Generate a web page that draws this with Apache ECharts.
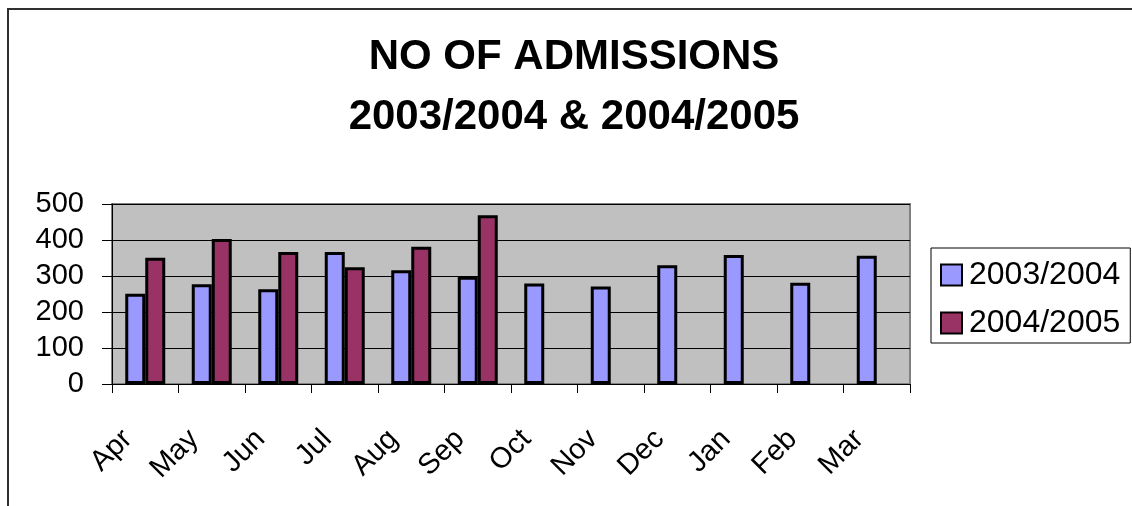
<!DOCTYPE html>
<html>
<head>
<meta charset="utf-8">
<script src="https://cdn.jsdelivr.net/npm/echarts@6/dist/echarts.min.js"></script>
<style>
html,body{margin:0;padding:0;background:#fff;}
#chart{width:1132px;height:506px;}
</style>
</head>
<body>
<div id="chart"></div>
<script>
const months = ['Apr','May','Jun','Jul','Aug','Sep','Oct','Nov','Dec','Jan','Feb','Mar'];
const series2003 = [251, 277, 263, 367, 316, 298, 279, 271, 330, 358, 281, 356];
const series2004 = [351, 403, 367, 324, 381, 469, null, null, null, null, null, null];
const seriesNames = ['2003/2004', '2004/2005'];
const yTicks = { min: 0, max: 500, interval: 100 };
const titleLines = ['NO OF ADMISSIONS', '2003/2004 & 2004/2005'];

const FONT = "'Liberation Sans', Arial, sans-serif";
const chart = echarts.init(document.getElementById('chart'), null, { renderer: 'canvas' });

chart.setOption({
  animation: false,
  backgroundColor: '#ffffff',
  textStyle: { fontFamily: FONT, color: '#000' },
  title: {
    text: titleLines.join('\n'),
    left: 574,
    top: 27,
    padding: 0,
    textAlign: 'center',
    textStyle: { fontFamily: FONT, fontSize: 42, fontWeight: 'bold', color: '#000', lineHeight: 60 }
  },
  graphic: [{
    type: 'rect',
    silent: true,
    z: -10,
    shape: { x: 8, y: 9, width: 1300, height: 700 },
    style: { fill: null, stroke: '#303030', lineWidth: 2 }
  }],
  legend: {
    orient: 'vertical',
    left: 931,
    top: 248,
    padding: [11, 10, 4, 9],
    itemGap: 16,
    itemWidth: 21,
    itemHeight: 21,
    icon: 'rect',
    backgroundColor: '#fff',
    borderColor: '#000',
    borderWidth: 1,
    borderRadius: 0,
    textStyle: { fontFamily: FONT, fontSize: 32, color: '#000', lineHeight: 30, padding: [0, 0, 0, 2] },
    itemStyle: { borderColor: '#000', borderWidth: 2 },
    data: seriesNames
  },
  grid: {
    left: 112, right: 222, top: 204, bottom: 122,
    show: true,
    backgroundColor: '#c0c0c0',
    borderColor: '#808080',
    borderWidth: 2
  },
  xAxis: {
    type: 'category',
    data: months,
    boundaryGap: true,
    axisLine: { show: true, lineStyle: { color: '#000', width: 1 } },
    axisTick: { show: true, length: 9, lineStyle: { color: '#000' } },
    axisLabel: { rotate: 45, margin: 33, padding: [0, 25, 0, 0], fontSize: 29, fontFamily: FONT, color: '#000', interval: 0 }
  },
  yAxis: {
    type: 'value',
    min: yTicks.min, max: yTicks.max, interval: yTicks.interval,
    axisLine: { show: true, lineStyle: { color: '#000', width: 1 } },
    axisTick: { show: true, length: 10, lineStyle: { color: '#000' } },
    axisLabel: { margin: 28, fontSize: 29, fontFamily: FONT, color: '#000' },
    splitLine: { show: true, lineStyle: { color: '#000', width: 1 } }
  },
  series: [
    {
      name: seriesNames[0], type: 'bar', data: series2003,
      barWidth: 20, barGap: '0%',
      itemStyle: { color: '#9999ff', borderColor: '#000', borderWidth: 3 }
    },
    {
      name: seriesNames[1], type: 'bar', data: series2004,
      barWidth: 20,
      itemStyle: { color: '#993366', borderColor: '#000', borderWidth: 3 }
    }
  ]
});
</script>
</body>
</html>
